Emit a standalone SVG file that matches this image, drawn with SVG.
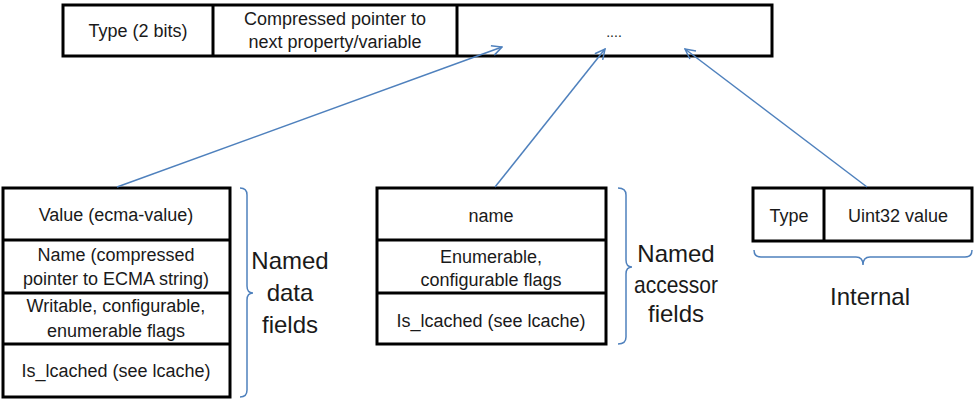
<svg xmlns="http://www.w3.org/2000/svg" width="975" height="400" viewBox="0 0 975 400">
<defs>
<style>
.box{fill:#fff;stroke:#000;stroke-width:3}
.div{stroke:#000;stroke-width:3;fill:none}
.t{font-family:"Liberation Sans",Arial,sans-serif;font-size:18px;fill:#1a1a1a;text-anchor:middle}
.big{font-family:"Liberation Sans",Arial,sans-serif;font-size:24px;fill:#1a1a1a;text-anchor:middle}
.brace{fill:none;stroke:#4F81BD;stroke-width:1.5}
.conn{fill:none;stroke:#4F81BD;stroke-width:1.5;marker-end:url(#ah)}
</style>
<marker id="ah" viewBox="0 0 12 12" refX="11" refY="6" markerWidth="12" markerHeight="12" markerUnits="userSpaceOnUse" orient="auto">
<path d="M1,1 L11,6 L1,11" fill="none" stroke="#4F81BD" stroke-width="1.5"/>
</marker>
</defs>
<rect width="975" height="400" fill="#fff"/>

<g id="top-bar">
<rect class="box" x="63" y="5" width="709" height="51"/>
<line class="div" x1="213" y1="5" x2="213" y2="56"/>
<line class="div" x1="457" y1="5" x2="457" y2="56"/>
<text class="t" x="138" y="37">Type (2 bits)</text>
<text class="t" x="335" y="25">Compressed pointer to</text>
<text class="t" x="335" y="48">next property/variable</text>
<text class="t" x="614" y="37" style="font-size:14px">....</text>
</g>

<g id="named-data">
<rect class="box" x="3" y="188" width="227" height="209"/>
<line class="div" x1="3" y1="240" x2="230" y2="240"/>
<line class="div" x1="3" y1="293" x2="230" y2="293"/>
<line class="div" x1="3" y1="344" x2="230" y2="344"/>
<text class="t" x="116" y="221">Value (ecma-value)</text>
<text class="t" x="116" y="261">Name (compressed</text>
<text class="t" x="116" y="285">pointer to ECMA string)</text>
<text class="t" x="116" y="312">Writable, configurable,</text>
<text class="t" x="116" y="337">enumerable flags</text>
<text class="t" x="116" y="377">Is_lcached (see lcache)</text>
<path class="brace" d="M240,188 Q247,188 247,195 L247,286 Q247,293 253,293 Q247,293 247,300 L247,390 Q247,397 240,397"/>
<text class="big" x="290" y="269">Named</text>
<text class="big" x="290" y="301">data</text>
<text class="big" x="290" y="333">fields</text>
</g>

<g id="named-accessor">
<rect class="box" x="377" y="188" width="229" height="156"/>
<line class="div" x1="377" y1="240" x2="606" y2="240"/>
<line class="div" x1="377" y1="293" x2="606" y2="293"/>
<text class="t" x="491" y="222">name</text>
<text class="t" x="491" y="263">Enumerable,</text>
<text class="t" x="491" y="286">configurable flags</text>
<text class="t" x="491" y="327">Is_lcached (see lcache)</text>
<path class="brace" d="M618,188 Q626,188 626,195 L626,260 Q626,267 632,267 Q626,267 626,274 L626,337 Q626,344 618,344"/>
<text class="big" x="676" y="262">Named</text>
<text class="big" x="676" y="293" textLength="84" lengthAdjust="spacingAndGlyphs">accessor</text>
<text class="big" x="676" y="322">fields</text>
</g>

<g id="internal">
<rect class="box" x="753" y="188" width="219" height="53"/>
<line class="div" x1="824" y1="188" x2="824" y2="241"/>
<text class="t" x="789" y="222">Type</text>
<text class="t" x="898" y="222">Uint32 value</text>
<path class="brace" d="M754,250 Q754,257 761,257 L856,257 Q863,257 863,265 Q863,257 870,257 L965,257 Q972,257 972,250"/>
<text class="big" x="870" y="305">Internal</text>
</g>

<g id="connectors">
<line class="conn" x1="117" y1="187" x2="502" y2="47"/>
<line class="conn" x1="495" y1="187" x2="605" y2="49"/>
<line class="conn" x1="867" y1="187" x2="685" y2="49"/>
</g>
</svg>
